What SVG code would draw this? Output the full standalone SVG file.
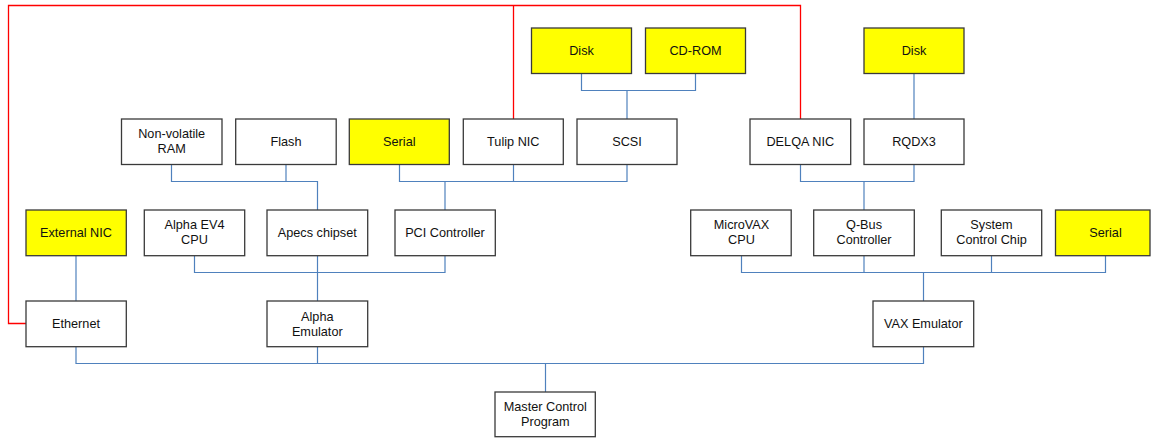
<svg xmlns="http://www.w3.org/2000/svg" width="1151" height="438" viewBox="0 0 1151 438">
<style>
.b{fill:#fff;stroke:#3a3a3a;stroke-width:1.3}
.y{fill:#ffff00;stroke:#3a3a3a;stroke-width:1.3}
text{font-family:"Liberation Sans",Arial,sans-serif;font-size:12.7px;fill:#111;text-anchor:middle;dominant-baseline:central}
.c{fill:none;stroke:#4f81bd;stroke-width:1.2}
.r{fill:none;stroke:#ff0000;stroke-width:1.3}
</style>
<rect width="1151" height="438" fill="#fff"/>
<g id="connectors">
<polyline class="c" points="581.5,73.5 581.5,90.5 695.5,90.5 695.5,73.5"/>
<line class="c" x1="627" y1="90.5" x2="627" y2="119"/>
<line class="c" x1="914" y1="73.5" x2="914" y2="119"/>
<polyline class="c" points="171.5,164.5 171.5,181.5 317.5,181.5 317.5,210"/>
<line class="c" x1="286" y1="164.5" x2="286" y2="181.5"/>
<polyline class="c" points="399.5,164.5 399.5,181.5 627,181.5 627,164.5"/>
<line class="c" x1="513.5" y1="164.5" x2="513.5" y2="181.5"/>
<line class="c" x1="445" y1="181.5" x2="445" y2="210"/>
<polyline class="c" points="800.5,164.5 800.5,181.5 914,181.5 914,164.5"/>
<line class="c" x1="864" y1="181.5" x2="864" y2="210"/>
<polyline class="c" points="194.5,256 194.5,272.5 445,272.5 445,256"/>
<line class="c" x1="317.5" y1="256" x2="317.5" y2="301"/>
<polyline class="c" points="741.5,256 741.5,272.5 1105.5,272.5 1105.5,256"/>
<line class="c" x1="864" y1="256" x2="864" y2="272.5"/>
<line class="c" x1="991.5" y1="256" x2="991.5" y2="272.5"/>
<line class="c" x1="923.5" y1="272.5" x2="923.5" y2="301"/>
<line class="c" x1="76" y1="256" x2="76" y2="301"/>
<polyline class="c" points="76,347 76,363.5 923.5,363.5 923.5,347"/>
<line class="c" x1="317.5" y1="347" x2="317.5" y2="363.5"/>
<line class="c" x1="545.5" y1="363.5" x2="545.5" y2="392"/>
<polyline class="r" points="26,323.5 8.5,323.5 8.5,5.5 800.5,5.5 800.5,119"/>
<line class="r" x1="513.5" y1="5.5" x2="513.5" y2="119"/>
</g>
<g id="disk1"><rect class="y" x="531.5" y="28" width="100" height="45.5"/><text x="581.5" y="50.7">Disk</text></g>
<g id="cdrom"><rect class="y" x="645.5" y="28" width="100" height="45.5"/><text x="695.5" y="50.7">CD-ROM</text></g>
<g id="disk2"><rect class="y" x="864" y="28" width="100" height="45.5"/><text x="914" y="50.7">Disk</text></g>
<g id="nvram"><rect class="b" x="121.5" y="119" width="100.5" height="45.5"/><text x="171.7" y="133.5">Non-volatile</text><text x="171.7" y="148.5">RAM</text></g>
<g id="flash"><rect class="b" x="235.7" y="119" width="100.5" height="45.5"/><text x="286" y="141.7">Flash</text></g>
<g id="serial1"><rect class="y" x="349.3" y="119" width="100" height="45.5"/><text x="399.3" y="141.7">Serial</text></g>
<g id="tulip"><rect class="b" x="463.3" y="119" width="100" height="45.5"/><text x="513.3" y="141.7">Tulip NIC</text></g>
<g id="scsi"><rect class="b" x="577" y="119" width="100" height="45.5"/><text x="627" y="141.7">SCSI</text></g>
<g id="delqa"><rect class="b" x="750" y="119" width="100.7" height="45.5"/><text x="800.3" y="141.7">DELQA NIC</text></g>
<g id="rqdx3"><rect class="b" x="864" y="119" width="100" height="45.5"/><text x="914" y="141.7">RQDX3</text></g>
<g id="extnic"><rect class="y" x="26" y="210" width="100.3" height="45.7"/><text x="76" y="232.8">External NIC</text></g>
<g id="ev4"><rect class="b" x="144.3" y="210" width="100.4" height="45.7"/><text x="194.5" y="225">Alpha EV4</text><text x="194.5" y="240.3">CPU</text></g>
<g id="apecs"><rect class="b" x="267" y="210" width="100.7" height="45.7"/><text x="317.3" y="232.8">Apecs chipset</text></g>
<g id="pci"><rect class="b" x="395" y="210" width="100.3" height="45.7"/><text x="445" y="232.8">PCI Controller</text></g>
<g id="microvax"><rect class="b" x="690.7" y="210" width="100.5" height="45.7"/><text x="741.5" y="225">MicroVAX</text><text x="741.5" y="240.3">CPU</text></g>
<g id="qbus"><rect class="b" x="813.7" y="210" width="100.6" height="45.7"/><text x="864" y="225">Q-Bus</text><text x="864" y="240.3">Controller</text></g>
<g id="sysctl"><rect class="b" x="941.3" y="210" width="100.4" height="45.7"/><text x="991.5" y="225">System</text><text x="991.5" y="240.3">Control Chip</text></g>
<g id="serial2"><rect class="y" x="1055.5" y="210" width="94.5" height="45.7"/><text x="1105.5" y="232.8">Serial</text></g>
<g id="ethernet"><rect class="b" x="26" y="301" width="100.3" height="45.7"/><text x="76" y="323.7">Ethernet</text></g>
<g id="alphaemu"><rect class="b" x="267" y="301" width="100.7" height="45.7"/><text x="317.3" y="316.5">Alpha</text><text x="317.3" y="331.5">Emulator</text></g>
<g id="vaxemu"><rect class="b" x="873" y="301" width="100.7" height="45.7"/><text x="923.3" y="323.7">VAX Emulator</text></g>
<g id="mcp"><rect class="b" x="495" y="392" width="100.3" height="44.7"/><text x="545.3" y="406.7">Master Control</text><text x="545.3" y="422">Program</text></g>
</svg>
